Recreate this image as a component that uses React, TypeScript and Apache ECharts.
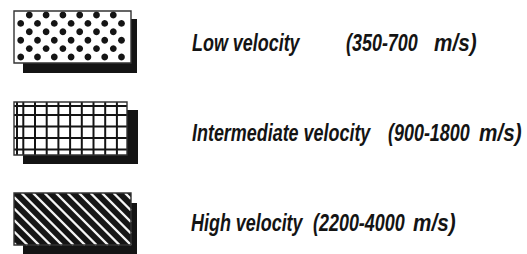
import React, { useEffect, useRef } from "react";
import * as echarts from "echarts";

// ---- data ----
const categories = ["Low velocity", "Intermediate velocity", "High velocity"];
const velocityMin = [350, 900, 2200];
const velocityMax = [700, 1800, 4000];
const unit = "m/s";
const patterns = ["dots", "grid", "hatch"];

// ---- layout (positions, sizes) ----
const boxes = [
  { x: 14, y: 11, w: 117, h: 52, sx: 23, sy: 19, sw: 114, sh: 54 },
  { x: 14, y: 102, w: 113, h: 53, sx: 23, sy: 110, sw: 115, sh: 54 },
  { x: 14, y: 193, w: 117, h: 52, sx: 23, sy: 203, sw: 114, sh: 51 },
];
const labelX = [192, 192, 191];
const rangeX = [346, 388, 313];
const unitX = [434, 479, 413];
const textY = [43, 133, 223];

const INK = "#141414";
const FONT = "italic bold 23px 'Liberation Sans', Arial, sans-serif";
const SCALE_X = 0.78;
const UNIT_SCALE_X = 0.9;

function dotsPattern(b: any): any[] {
  const els: any[] = [];
  for (let k = 0; k < 6; k++) {
    const cy = b.y + 4 + k * 8.4;
    const start = k % 2 === 0 ? b.x + 15.3 : b.x + 6.7;
    for (let cx = start; cx < b.x + b.w - 3; cx += 16.8) {
      els.push({ type: "circle", shape: { cx, cy, r: 3.4 }, style: { fill: INK }, z: 3 });
    }
  }
  return els;
}

function gridPattern(b: any): any[] {
  const els: any[] = [];
  const xs = [b.x + 3];
  for (let x = b.x + 9.3; x < b.x + b.w - 2; x += 11.7) xs.push(x);
  const ys = [b.y + 4];
  for (let y = b.y + 13; y < b.y + b.h - 2; y += 11.5) ys.push(y);
  xs.forEach((x) =>
    els.push({ type: "line", shape: { x1: x, y1: b.y, x2: x, y2: b.y + b.h }, style: { stroke: INK, lineWidth: 2 }, z: 3 })
  );
  ys.forEach((y) =>
    els.push({ type: "line", shape: { x1: b.x, y1: y, x2: b.x + b.w, y2: y }, style: { stroke: INK, lineWidth: 2 }, z: 3 })
  );
  return els;
}

function hatchPattern(b: any): any[] {
  const els: any[] = [];
  els.push({ type: "rect", shape: { x: b.x, y: b.y, width: b.w, height: b.h }, style: { fill: INK }, z: 2 });
  const x0 = b.x, x1 = b.x + b.w, y0 = b.y, y1 = b.y + b.h;
  // lines x - y = c
  for (let c = x0 - y1 + 2; c < x1 - y0; c += 11.5) {
    const sx = Math.max(x0, y0 + c);
    const ex = Math.min(x1, y1 + c);
    if (ex - sx < 1) continue;
    els.push({
      type: "line",
      shape: { x1: sx, y1: sx - c, x2: ex, y2: ex - c },
      style: { stroke: "#f4f4f4", lineWidth: 2.4 },
      z: 3,
    });
  }
  return els;
}

export default function App() {
  const ref = useRef<HTMLDivElement>(null);
  useEffect(() => {
    if (!ref.current) return;
    const chart = echarts.init(ref.current, undefined, { renderer: "svg" });
    const elements: any[] = [];
    categories.forEach((cat, i) => {
      const b = boxes[i];
      elements.push({ type: "rect", shape: { x: b.sx, y: b.sy, width: b.sw, height: b.sh }, style: { fill: INK }, z: 1 });
      elements.push({ type: "rect", shape: { x: b.x, y: b.y, width: b.w, height: b.h }, style: { fill: "#fff" }, z: 2 });
      const p = patterns[i];
      if (p === "dots") elements.push(...dotsPattern(b));
      else if (p === "grid") elements.push(...gridPattern(b));
      else elements.push(...hatchPattern(b));
      elements.push({
        type: "rect",
        shape: { x: b.x, y: b.y, width: b.w, height: b.h },
        style: { fill: "none", stroke: "#333", lineWidth: 1.4 },
        z: 4,
      });
      const tstyle = { font: FONT, fill: INK, textVerticalAlign: "middle", textAlign: "left" };
      elements.push({ type: "text", x: labelX[i], y: textY[i], scaleX: SCALE_X, style: { ...tstyle, text: cat }, z: 5 });
      elements.push({
        type: "text",
        x: rangeX[i],
        y: textY[i],
        scaleX: SCALE_X,
        style: { ...tstyle, text: `(${velocityMin[i]}-${velocityMax[i]}` },
        z: 5,
      });
      elements.push({ type: "text", x: unitX[i], y: textY[i], scaleX: UNIT_SCALE_X, style: { ...tstyle, text: `${unit})` }, z: 5 });
    });
    chart.setOption({ animation: false, backgroundColor: "#fff", graphic: { elements } });
    return () => chart.dispose();
  }, []);
  return <div ref={ref} style={{ position: "fixed", left: 0, top: 0, width: 527, height: 254 }} />;
}
